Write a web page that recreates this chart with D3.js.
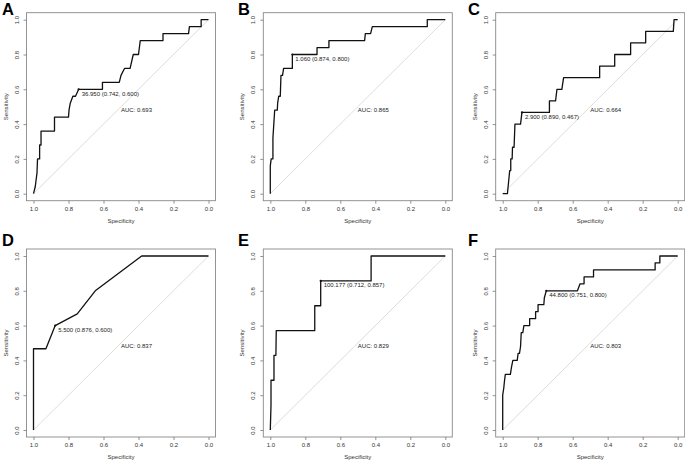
<!DOCTYPE html>
<html>
<head>
<meta charset="utf-8">
<script src="https://cdn.jsdelivr.net/npm/d3@7"></script>
<style>
  body { margin: 0; background: #fff; }
  svg { display: block; font-family: "Liberation Sans", Arial, sans-serif; }
  .tick text { fill: #333; font-size: 6px; }
  .tick line { stroke: #777; stroke-width: 0.8; }
</style>
</head>
<body>
<svg width="685" height="464"></svg>
<script>
// ROC paths as [specificity, sensitivity]
const rocA = [[1,0],[0.99,0.04],[0.985,0.08],[0.98,0.12],[0.977,0.2],[0.965,0.2],[0.965,0.28],[0.957,0.28],[0.957,0.36],[0.88,0.36],[0.88,0.44],[0.8,0.44],[0.797,0.48],[0.79,0.52],[0.775,0.56],[0.76,0.56],[0.742,0.6],[0.606,0.6],[0.606,0.64],[0.51,0.64],[0.5,0.68],[0.48,0.72],[0.448,0.72],[0.43,0.8],[0.4,0.8],[0.39,0.88],[0.26,0.88],[0.26,0.92],[0.114,0.92],[0.109,0.96],[0.042,0.96],[0.042,1],[0,1]]
const rocB = [[1,0],[1,0.16],[0.995,0.2],[0.985,0.2],[0.985,0.32],[0.98,0.4],[0.975,0.48],[0.96,0.48],[0.958,0.52],[0.952,0.56],[0.943,0.56],[0.939,0.68],[0.93,0.68],[0.924,0.72],[0.874,0.72],[0.874,0.8],[0.733,0.8],[0.733,0.84],[0.665,0.84],[0.665,0.88],[0.461,0.88],[0.457,0.92],[0.427,0.92],[0.417,0.96],[0.103,0.96],[0.103,1],[0,1]]
const rocC = [[1,0],[0.973,0],[0.96,0.133],[0.954,0.133],[0.954,0.2],[0.946,0.2],[0.944,0.267],[0.935,0.267],[0.93,0.4],[0.898,0.4],[0.89,0.467],[0.733,0.467],[0.733,0.533],[0.698,0.533],[0.69,0.6],[0.662,0.6],[0.652,0.667],[0.446,0.667],[0.446,0.733],[0.36,0.733],[0.36,0.8],[0.269,0.8],[0.269,0.867],[0.183,0.867],[0.183,0.933],[0.025,0.933],[0.021,1],[0,1]]
const rocD = [[1,0],[1,0.467],[0.929,0.467],[0.876,0.6],[0.75,0.667],[0.647,0.8],[0.382,1],[0,1]]
const rocE = [[1,0],[0.996,0.143],[0.996,0.286],[0.979,0.286],[0.979,0.429],[0.968,0.429],[0.966,0.571],[0.746,0.571],[0.746,0.714],[0.712,0.714],[0.712,0.857],[0.424,0.857],[0.424,1],[0,1]]
const rocF = [[1,0],[1,0.2],[0.994,0.24],[0.99,0.28],[0.985,0.32],[0.956,0.32],[0.95,0.36],[0.942,0.4],[0.917,0.4],[0.912,0.44],[0.904,0.44],[0.898,0.48],[0.894,0.56],[0.885,0.56],[0.879,0.6],[0.846,0.6],[0.846,0.64],[0.812,0.64],[0.812,0.68],[0.798,0.68],[0.798,0.72],[0.765,0.72],[0.762,0.76],[0.751,0.8],[0.573,0.8],[0.558,0.84],[0.535,0.84],[0.535,0.88],[0.481,0.88],[0.481,0.92],[0.129,0.92],[0.129,0.96],[0.102,0.96],[0.102,1],[0,1]]

const letters = ['A', 'B', 'C', 'D', 'E', 'F']
const rocs = [rocA, rocB, rocC, rocD, rocE, rocF]
const thresholds = ['36.950', '1.060', '2.900', '5.500', '100.177', '44.800']
const bestPts = [[0.742, 0.600], [0.874, 0.800], [0.890, 0.467], [0.876, 0.600], [0.712, 0.857], [0.751, 0.800]]
const aucs = ['0.693', '0.865', '0.664', '0.837', '0.829', '0.803']
const ticks = [1, 0.8, 0.6, 0.4, 0.2, 0]

const svg = d3.select('svg')

// pixel position of spec=1 / sens=1 for each column / row
const colX = [33.5, 270.3, 502.7]
const rowY = [19.7, 256]
const letterX = [2, 238, 468]
const letterY = [14.5, 245.5]
const plotW = 175, plotH = 174, pad = 7

letters.forEach((L, i) => {
	const c = i % 3, r = Math.floor(i / 3)
	const x0 = colX[c], y0 = rowY[r]

	const scX = d3.scaleLinear().domain([1, 0]).range([x0, x0 + plotW])
	const scY = d3.scaleLinear().domain([0, 1]).range([y0 + plotH, y0])

	const g = svg.append('g')

	const bx = scX(1) - pad, by = scY(1) - pad
	const bw = plotW + 2 * pad, bh = plotH + 2 * pad

	// diagonal reference
	g.append('line')
	.attr('x1', scX(1)).attr('y1', scY(0))
	.attr('x2', scX(0)).attr('y2', scY(1))
	.attr('stroke', '#cfcfcf').attr('stroke-width', 0.7)

	g.append('rect')
	.attr('x', bx).attr('y', by).attr('width', bw).attr('height', bh)
	.attr('fill', 'none').attr('stroke', '#888').attr('stroke-width', 0.9)

	const xAx = g.append('g')
	.attr('transform', `translate(0, ${by + bh})`)
	.call(d3.axisBottom(scX).tickValues(ticks).tickSize(3).tickPadding(3).tickFormat(d3.format('.1f')))
	xAx.select('.domain').remove()

	const yAx = g.append('g')
	.attr('transform', `translate(${bx}, 0)`)
	.call(d3.axisLeft(scY).tickValues(ticks).tickSize(3).tickFormat(d3.format('.1f')))
	yAx.select('.domain').remove()
	yAx.selectAll('.tick text')
	.attr('x', 0).attr('dy', 0)
	.attr('text-anchor', 'middle')
	.attr('transform', 'translate(-8,0) rotate(-90)')

	g.append('text')
	.attr('x', (scX(1) + scX(0)) / 2).attr('y', by + bh + 22)
	.attr('text-anchor', 'middle').attr('font-size', 6).attr('fill', '#333')
	.text('Specificity')

	g.append('text')
	.attr('transform', `translate(${bx - 19}, ${(scY(0) + scY(1)) / 2}) rotate(-90)`)
	.attr('text-anchor', 'middle').attr('font-size', 6).attr('fill', '#333')
	.text('Sensitivity')

	const line = d3.line().x(d => scX(d[0])).y(d => scY(d[1]))
	g.append('path')
	.attr('d', line(rocs[i]))
	.attr('fill', 'none').attr('stroke', '#111').attr('stroke-width', 1.3)
	.attr('stroke-linejoin', 'round')

	const bp = bestPts[i]
	g.append('circle')
	.attr('cx', scX(bp[0])).attr('cy', scY(bp[1])).attr('r', 1.1).attr('fill', '#111')

	g.append('text')
	.attr('x', scX(bp[0]) + 3).attr('y', scY(bp[1]) + 6.2)
	.attr('font-size', 6).attr('fill', '#222')
	.text(`${thresholds[i]} (${bp[0].toFixed(3)}, ${bp[1].toFixed(3)})`)

	g.append('text')
	.attr('x', scX(0.5)).attr('y', scY(0.5) + 5)
	.attr('font-size', 6).attr('fill', '#222')
	.text(`AUC: ${aucs[i]}`)

	g.append('text')
	.attr('x', letterX[c]).attr('y', letterY[r])
	.attr('font-size', 16.5).attr('font-weight', 'bold').attr('fill', '#000')
	.text(L)
})
</script>
</body>
</html>
